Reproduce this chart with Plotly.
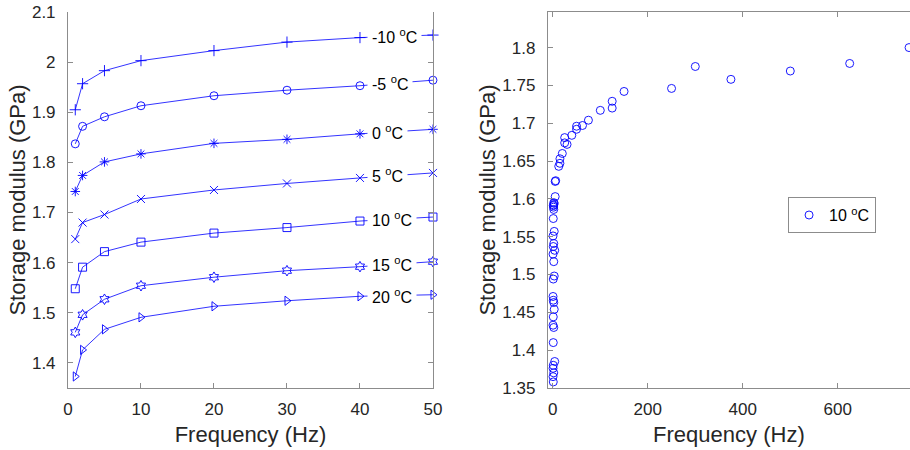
import plotly.graph_objects as go

# left panel: storage modulus vs frequency at each temperature
freq = [1, 2, 5, 10, 20, 30, 40, 50]
temps = ["-10", "-5", "0", "5", "10", "15", "20"]
modulus = {
    "-10": [1.905, 1.957, 1.983, 2.003, 2.023, 2.040, 2.049, 2.054],
    "-5": [1.837, 1.872, 1.891, 1.913, 1.933, 1.944, 1.953, 1.964],
    "0": [1.742, 1.774, 1.801, 1.817, 1.838, 1.846, 1.857, 1.866],
    "5": [1.647, 1.680, 1.696, 1.727, 1.745, 1.758, 1.769, 1.779],
    "10": [1.548, 1.591, 1.622, 1.641, 1.659, 1.670, 1.683, 1.691],
    "15": [1.461, 1.496, 1.527, 1.554, 1.571, 1.584, 1.592, 1.602],
    "20": [1.373, 1.426, 1.467, 1.491, 1.513, 1.524, 1.533, 1.536],
}
symbols = {
    "-10": "cross-thin-open", "-5": "circle-open", "0": "asterisk-open",
    "5": "x-thin-open", "10": "square-open", "15": "hexagram-open",
    "20": "triangle-right-open",
}

# right panel: all points at 10 C reference
master_f = [750, 625, 500, 375, 300, 250, 150, 125, 125, 100, 75, 62.5, 50, 50,
            40, 30, 25, 25, 20, 15, 15, 12.5, 6, 5, 5, 2, 2, 1.5,
            3, 1, 2, 1, 3, 0.5, 2, 1, 4, 0.5, 2, 3, 1, 0.5, 1, 2, 3, 1, 0.5,
            2, 1, 4, 1, 0.5, 2, 1, 0.5]
master_e = [1.800, 1.779, 1.769, 1.758, 1.775, 1.746, 1.742, 1.729, 1.720, 1.717,
            1.704, 1.697, 1.696, 1.692, 1.684, 1.672, 1.674, 1.681, 1.660, 1.653,
            1.647, 1.643, 1.624, 1.623, 1.603, 1.595, 1.592, 1.589,
            1.594, 1.591, 1.586, 1.574, 1.557, 1.551, 1.541, 1.537, 1.532, 1.527,
            1.517, 1.498, 1.494, 1.471, 1.466, 1.463, 1.454, 1.444, 1.433, 1.430,
            1.410, 1.385, 1.380, 1.376, 1.370, 1.358, 1.365]

left_yticks = [1.4, 1.5, 1.6, 1.7, 1.8, 1.9, 2.0, 2.1]
left_ylabels = ["1.4", "1.5", "1.6", "1.7", "1.8", "1.9", "2", "2.1"]
right_yticks = [1.35, 1.4, 1.45, 1.5, 1.55, 1.6, 1.65, 1.7, 1.75, 1.8]
right_ylabels = ["1.35", "1.4", "1.45", "1.5", "1.55", "1.6", "1.65", "1.7", "1.75", "1.8"]

blue = "rgb(0,0,255)"
grey = "#8c8c8c"
txt = "#262626"
font = "Liberation Sans, Arial, Helvetica, sans-serif"

fig = go.Figure()

for t in temps:
    fig.add_trace(go.Scatter(
        x=freq, y=modulus[t], mode="lines+markers", showlegend=False,
        line=dict(color=blue, width=0.8),
        marker=dict(symbol=symbols[t], size=8, color=blue,
                    line=dict(color=blue, width=0.9)),
        xaxis="x", yaxis="y", cliponaxis=False,
    ))
    ylab = (modulus[t][-2] + modulus[t][-1]) / 2
    fig.add_annotation(
        x=41.0, y=ylab, xref="x", yref="y", xanchor="left", yanchor="middle",
        text=t + " <sup>o</sup>C", showarrow=False, bgcolor="white",
        borderpad=4, font=dict(size=16, color="black", family=font),
    )

fig.add_trace(go.Scatter(
    x=master_f, y=master_e, mode="markers", name="10 <sup>o</sup>C",
    marker=dict(symbol="circle-open", size=8, color=blue,
                line=dict(color=blue, width=0.9)),
    xaxis="x2", yaxis="y2",
))

axis_common = dict(
    showline=True, linecolor=grey, linewidth=1, ticks="inside", ticklen=5,
    tickcolor=grey, showgrid=False, zeroline=False, automargin=False,
    tickfont=dict(size=17, color=txt, family=font),
    title_font=dict(size=22, color=txt, family=font),
)

fig.update_layout(
    width=910, height=450,
    margin=dict(l=0, r=0, t=0, b=0),
    paper_bgcolor="white", plot_bgcolor="white",
    font=dict(family=font, color=txt),
    xaxis=dict(domain=[0.0747, 0.4758], range=[0, 50], tickvals=[0, 10, 20, 30, 40, 50],
               title=dict(text="Frequency (Hz)", standoff=8), anchor="y",
               mirror=False, ticklabelstandoff=6, **axis_common),
    yaxis=dict(domain=[0.1378, 0.9733], range=[1.35, 2.1], tickvals=left_yticks,
               ticktext=left_ylabels, title=dict(text="Storage modulus (GPa)", standoff=0),
               anchor="x", mirror="ticks", ticklabelstandoff=8, **axis_common),
    xaxis2=dict(domain=[0.602, 1.0], range=[-10.5, 752], tickvals=[0, 200, 400, 600],
                title=dict(text="Frequency (Hz)", standoff=8), anchor="y2",
                mirror="ticks", ticklabelstandoff=6, **axis_common),
    yaxis2=dict(domain=[0.1378, 0.9733], range=[1.35, 1.847], tickvals=right_yticks,
                ticktext=right_ylabels, title=dict(text="Storage modulus (GPa)", standoff=0),
                anchor="x2", mirror=False, ticklabelstandoff=8, **axis_common),
    showlegend=True,
    legend=dict(x=0.866, y=0.562, xanchor="left", yanchor="top",
                bgcolor="white", bordercolor=grey, borderwidth=1,
                font=dict(size=16, color="black", family=font)),
)

fig.write_html("out.html", config={"displayModeBar": False},
               post_script="document.body.style.margin='0';")
